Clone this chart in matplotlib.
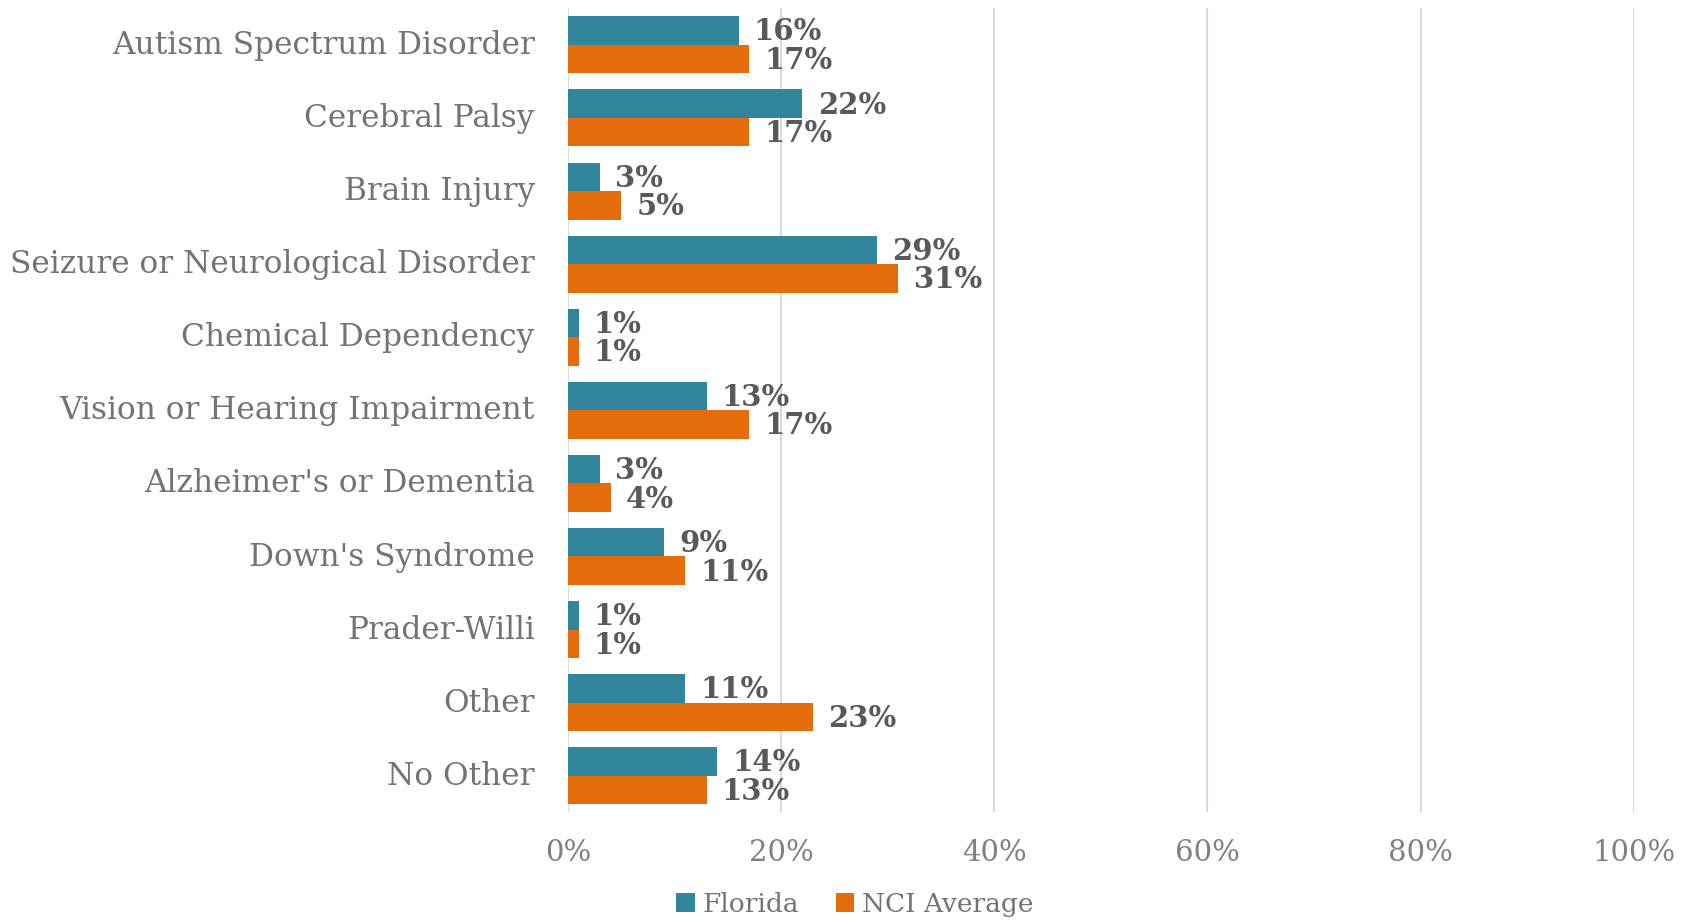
import numpy as np
import matplotlib.pyplot as plt

categories = ["Autism Spectrum Disorder", "Cerebral Palsy", "Brain Injury",
              "Seizure or Neurological Disorder", "Chemical Dependency",
              "Vision or Hearing Impairment", "Alzheimer's or Dementia",
              "Down's Syndrome", "Prader-Willi", "Other", "No Other"]
florida = [16, 22, 3, 29, 1, 13, 3, 9, 1, 11, 14]
nci_avg = [17, 17, 5, 31, 1, 17, 4, 11, 1, 23, 13]
xticks = [0, 20, 40, 60, 80, 100]

teal = '#31859C'
orange = '#E46C0A'

plt.rcParams['font.family'] = ['DejaVu Serif']

fig = plt.figure(figsize=(16.93, 9.21), dpi=100)
ax = fig.add_axes([0.3355, 0.118, 0.965 - 0.3355, 0.991 - 0.118])

y = np.arange(len(categories))
h = 0.39
b1 = ax.barh(y - h / 2, florida, height=h, color=teal, label='Florida', zorder=3)
b2 = ax.barh(y + h / 2, nci_avg, height=h, color=orange, label='NCI Average', zorder=3)

# data labels
for bars, vals in [(b1, florida), (b2, nci_avg)]:
    for bar, v in zip(bars, vals):
        ax.annotate(f'{v}%', (bar.get_width(), bar.get_y() + bar.get_height() / 2),
                    xytext=(11, -1), textcoords='offset points',
                    ha='left', va='center', fontsize=21, fontweight='bold',
                    color='#595959', zorder=4)

ax.set_xlim(0, 100)
ax.set_ylim(len(categories) - 0.5, -0.5)
ax.set_yticks(y - 0.04)
ax.set_yticklabels(categories, fontsize=22.5, color='#737373')
ax.set_xticks(xticks)
ax.set_xticklabels([f'{t}%' for t in xticks], fontsize=21, color='#808080')
ax.tick_params(axis='y', length=0, pad=24)
ax.tick_params(axis='x', length=0, pad=19)
ax.grid(axis='x', color='#d9d9d9', linewidth=1.5, zorder=0)
for s in ax.spines.values():
    s.set_visible(False)

fig.legend(loc='center', bbox_to_anchor=(0.505, 0.018), ncol=2, frameon=False,
           fontsize=19, labelcolor='#737373', handlelength=0.7, handleheight=0.7,
           handletextpad=0.3, columnspacing=1.4, borderaxespad=0)

plt.savefig('out.png', dpi=100)
